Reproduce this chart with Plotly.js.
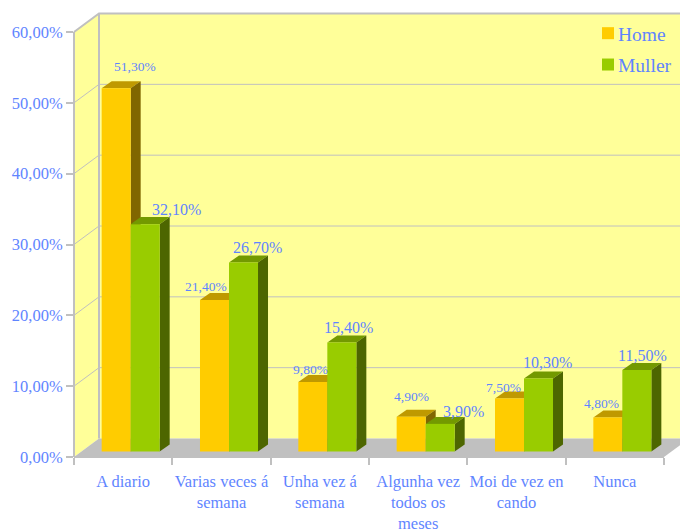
<!DOCTYPE html>
<html>
<head>
<meta charset="utf-8">
<script src="https://cdn.plot.ly/plotly-3.0.1.min.js"></script>
<style>html,body{margin:0;padding:0;background:#fff}</style>
</head>
<body>
<div id="chart" style="width:680px;height:532px"></div>
<script>
// ---- data ----
const categories = ["A diario", "Varias veces á<br>semana", "Unha vez á<br>semana", "Algunha vez<br>todos os<br>meses", "Moi de vez en<br>cando", "Nunca"];
const home = [51.3, 21.4, 9.8, 4.9, 7.5, 4.8];
const muller = [32.1, 26.7, 15.4, 3.9, 10.3, 11.5];
const yTicks = [0, 10, 20, 30, 40, 50, 60];
// hand-placed data-label offsets (px, from bar-top centre)
const homeLabelDx = [19, -9, -2, 0, -6, -6];
const homeLabelUp = [22, 13, 13, 20, 11, 14];
const mullerLabelDx = [31, 14, 7, 23, 9, 6];
const mullerLabelUp = [15, 15, 15, 12, 16, 15];

// ---- style / geometry ----
const W = 680, H = 532;
const PL = 74, PR = 664, PB = 457, PT = 32;      // front plane of the box, px
const unitX = (PR - PL) / categories.length;     // px per category
const unitY = (PB - PT) / 60;                    // px per percentage point
const GREY = "#C0C0C0", WALL = "#FFFF99", TXT = "#5F85FF", FONT = "'Liberation Serif', serif";
const wallDX = 25 / unitX, wallDY = 18.5 / unitY; // full box depth
const barDX = 10 / unitX, barDY = 7 / unitY;      // bar depth
const shiftPxX = 7.5, shiftPxY = 5.5;             // bars stand slightly behind the front plane
const GAP = 0.41, barW = (1 - GAP) / 2;
const pct = v => v.toFixed(2).replace(".", ",") + "%";

// Whole-page axes: value <-> px linear mapping, with optional depth shift
const xRange = s => [-0.5 - (PL + s) / unitX, -0.5 + (W - PL - s) / unitX];
const yRange = s => [(PB - s - H) / unitY, (PB - s) / unitY];
const idx = categories.map((_, i) => i);

const traces = [];
function poly(xs, ys, color, axes) {
  traces.push({type: "scatter", mode: "lines", x: xs, y: ys, fill: "toself", fillcolor: color,
    line: {width: 0, color: color}, hoverinfo: "skip", showlegend: false, xaxis: axes[0], yaxis: axes[1]});
}
function line(xs, ys, w, axes) {
  traces.push({type: "scatter", mode: "lines", x: xs, y: ys, line: {width: w, color: GREY},
    hoverinfo: "skip", showlegend: false, xaxis: axes[0], yaxis: axes[1]});
}

// axis-holder trace for the front plane
traces.push({type: "scatter", mode: "none", x: categories, y: categories.map(() => 0), hoverinfo: "skip", showlegend: false, xaxis: "x", yaxis: "y"});

// box: walls, floor, gridlines
const W2 = ["x2", "y2"], xL = -0.5, xR = categories.length - 0.5, yT = yTicks[yTicks.length - 1];
poly([xL, xL, xL + wallDX, xL + wallDX], [0, yT, yT + wallDY, wallDY], WALL, W2);
poly([xL + wallDX, xR + wallDX, xR + wallDX, xL + wallDX], [wallDY, wallDY, yT + wallDY, yT + wallDY], WALL, W2);
poly([xL, xR, xR + wallDX, xL + wallDX], [0, 0, wallDY, wallDY], GREY, W2);
yTicks.slice(1, -1).forEach(v => {
  line([xL, xL + wallDX, xR + wallDX], [v, v + wallDY, v + wallDY], 1, W2);
});
line([xL, xL + wallDX, xR + wallDX], [yT, yT + wallDY, yT + wallDY], 2, W2);
line([xL, xL], [0, yT], 2, W2);
line([xL + wallDX, xL + wallDX], [wallDY, yT + wallDY], 2, W2);
line([xL, xR], [0, 0], 2, W2);

// bar tops and sides
const B3 = ["x3", "y3"];
function faces(vals, off, topCol, sideCol) {
  vals.forEach((v, i) => {
    const a = i + off * barW, b = a + barW;
    poly([a, b, b + barDX, a + barDX], [v, v, v + barDY, v + barDY], topCol, B3);
    poly([b, b + barDX, b + barDX, b], [0, barDY, v + barDY, v], sideCol, B3);
  });
}
faces(home, -1, "#BF9900", "#806600");
faces(muller, 0, "#739900", "#4D6600");

// front faces
traces.push({type: "bar", name: "Home", x: idx, y: home, width: barW, marker: {color: "#FFCC00", line: {width: 0}},
  hoverinfo: "skip", xaxis: "x4", yaxis: "y4", legendgroup: "h"});
traces.push({type: "bar", name: "Muller", x: idx, y: muller, width: barW, marker: {color: "#99CC00", line: {width: 0}},
  hoverinfo: "skip", xaxis: "x4", yaxis: "y4", legendgroup: "m"});

// data labels
const annotations = [];
function labels(vals, off, size, dx, up) {
  vals.forEach((v, i) => annotations.push({
    xref: "x4", yref: "y4", x: i + off * barW, y: v, text: pct(v), showarrow: false,
    xanchor: "center", yanchor: "middle", xshift: dx[i], yshift: up[i],
    font: {family: FONT, size: size, color: TXT}
  }));
}
labels(home, -0.5, 13.5, homeLabelDx, homeLabelUp);
labels(muller, 0.5, 16, mullerLabelDx, mullerLabelUp);

const hidden = (extra) => Object.assign({visible: false, domain: [0, 1], autorange: false, fixedrange: true}, extra);
const layout = {
  width: W, height: H,
  margin: {l: 0, r: 0, t: 0, b: 0, pad: 0, autoexpand: false},
  paper_bgcolor: "rgba(0,0,0,0)", plot_bgcolor: "rgba(0,0,0,0)",
  barmode: "group", bargap: GAP, bargroupgap: 0,
  showlegend: true,
  legend: {x: 588 / W, y: 1 - 14 / H, xanchor: "left", yanchor: "top", bgcolor: "rgba(0,0,0,0)", borderwidth: 0,
    traceorder: "grouped", tracegroupgap: 3, itemclick: false, itemdoubleclick: false,
    font: {family: FONT, size: 19.5, color: TXT}},
  xaxis: {type: "category", categoryorder: "array", categoryarray: categories, domain: [PL / W, PR / W], range: [-0.5, categories.length - 0.5],
    tickson: "boundaries", ticks: "outside", ticklen: 7, tickwidth: 2, tickcolor: GREY, tickangle: 0, ticklabelstandoff: 12,
    showgrid: false, zeroline: false, showline: false, anchor: "y", automargin: false, fixedrange: true,
    tickfont: {family: FONT, size: 16.5, color: TXT}},
  yaxis: {domain: [1 - PB / H, 1 - PT / H], range: [0, yT], tickmode: "array", tickvals: yTicks, ticktext: yTicks.map(pct),
    ticks: "outside", ticklen: 7, tickwidth: 2, tickcolor: GREY, showgrid: false, zeroline: false, showline: false, anchor: "x",
    automargin: false, fixedrange: true, tickfont: {family: FONT, size: 16.5, color: TXT}},
  xaxis2: hidden({range: xRange(0), anchor: "y2"}),
  yaxis2: hidden({range: yRange(0), anchor: "x2"}),
  xaxis3: hidden({range: xRange(shiftPxX), anchor: "y3"}),
  yaxis3: hidden({range: yRange(shiftPxY), anchor: "x3"}),
  xaxis4: hidden({range: xRange(shiftPxX), anchor: "y4"}),
  yaxis4: hidden({range: yRange(shiftPxY), anchor: "x4"}),
  annotations: annotations
};

Plotly.newPlot("chart", traces, layout, {displayModeBar: false, staticPlot: true}).then(() => {
  // legend text sits close to its swatch in this chart
  document.querySelectorAll(".legendtext").forEach(t => t.setAttribute("x", 30));
});
</script>
</body>
</html>
